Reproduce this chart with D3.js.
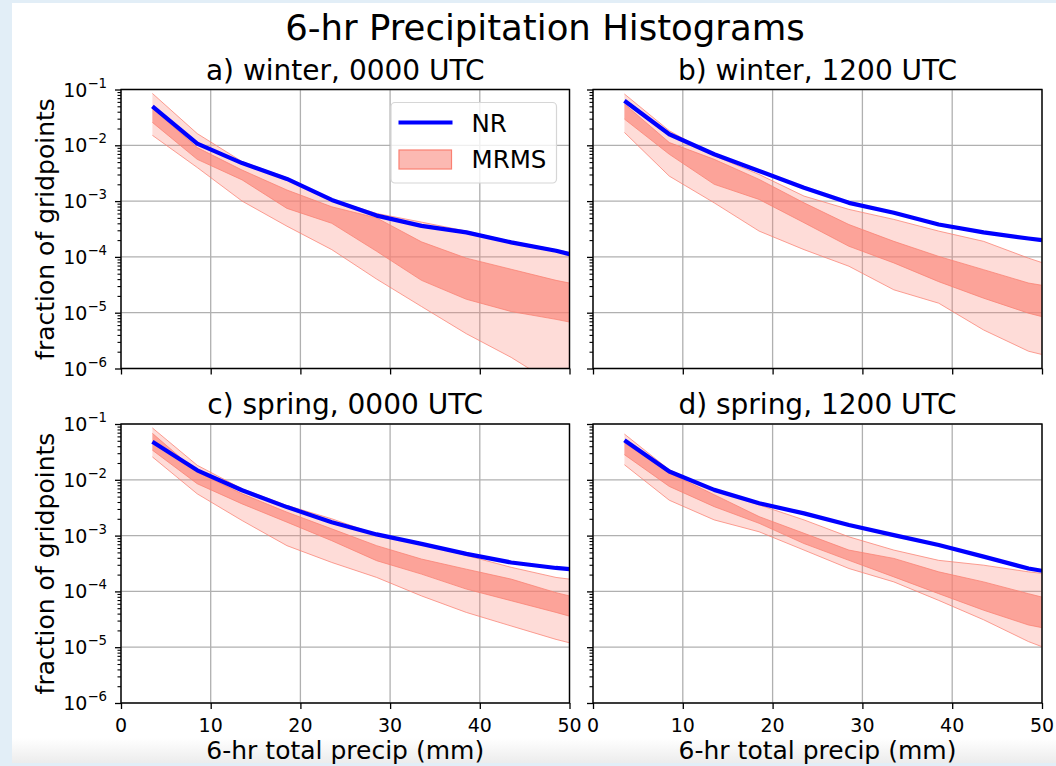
<!DOCTYPE html>
<html><head><meta charset="utf-8">
<script src="https://cdn.jsdelivr.net/npm/d3@7"></script>
<style>
body{margin:0;background:#e4eff7;}
svg{display:block;font-family:"DejaVu Sans",sans-serif;}
</style>
</head><body>
<svg id="chart" width="1056" height="766"></svg>
<script>
// ---------- data ----------
const precip = [3.5, 8.5, 13.5, 18.5, 23.5, 28.5, 33.5, 38.5, 43.5, 48.5, 50];
const panelTitles = ["a) winter, 0000 UTC", "b) winter, 1200 UTC", "c) spring, 0000 UTC", "d) spring, 1200 UTC"];
const xTicks = [0, 10, 20, 30, 40, 50];
const yTickExps = [-6, -5, -4, -3, -2, -1];

// a) winter 0000 UTC
const nrA      = [5.0e-2, 1.07e-2, 4.8e-3, 2.5e-3, 1.05e-3, 5.5e-4, 3.6e-4, 2.75e-4, 1.82e-4, 1.29e-4, 1.12e-4];
const outerHiA = [8.5e-2, 1.62e-2, 5.1e-3, 2.63e-3, 1.07e-3, 6.0e-4, 4.2e-4, 2.9e-4, 1.9e-4, 1.35e-4, 1.2e-4];
const innerHiA = [4.6e-2, 9.1e-3, 3.6e-3, 1.58e-3, 7.9e-4, 5.0e-4, 1.86e-4, 9.5e-5, 6.0e-5, 3.8e-5, 3.4e-5];
const innerLoA = [2.57e-2, 5.6e-3, 2.4e-3, 7.4e-4, 4.0e-4, 1.26e-4, 3.8e-5, 1.74e-5, 1.05e-5, 7.6e-6, 6.8e-6];
const outerLoA = [1.51e-2, 4.0e-3, 1.0e-3, 3.55e-4, 1.35e-4, 4.0e-5, 1.29e-5, 4.2e-6, 1.58e-6, 5.0e-7, 3.2e-7];

// b) winter 1200 UTC
const nrB      = [6.3e-2, 1.58e-2, 6.9e-3, 3.47e-3, 1.74e-3, 9.3e-4, 6.2e-4, 3.8e-4, 2.75e-4, 2.14e-4, 2.0e-4];
const outerHiB = [8.3e-2, 1.82e-2, 6.5e-3, 3.0e-3, 1.23e-3, 7.1e-4, 4.7e-4, 2.9e-4, 1.9e-4, 9.5e-5, 7.9e-5];
const innerHiB = [5.5e-2, 1.12e-2, 5.6e-3, 2.45e-3, 9.3e-4, 3.8e-4, 1.9e-4, 1.02e-4, 5.9e-5, 3.4e-5, 3.1e-5];
const innerLoB = [2.95e-2, 6.9e-3, 2.0e-3, 1.07e-3, 4.1e-4, 1.55e-4, 7.8e-5, 3.6e-5, 1.82e-5, 9.8e-6, 8.5e-6];
const outerLoB = [1.7e-2, 2.8e-3, 9.3e-4, 2.9e-4, 1.35e-4, 6.8e-5, 2.57e-5, 1.48e-5, 4.9e-6, 2.04e-6, 1.78e-6];

// c) spring 0000 UTC
const nrC      = [4.8e-2, 1.48e-2, 6.5e-3, 3.24e-3, 1.74e-3, 1.05e-3, 7.1e-4, 4.7e-4, 3.3e-4, 2.63e-4, 2.5e-4];
const outerHiC = [8.5e-2, 1.82e-2, 6.9e-3, 3.47e-3, 2.0e-3, 1.05e-3, 7.1e-4, 4.4e-4, 2.7e-4, 1.78e-4, 1.66e-4];
const innerHiC = [6.8e-2, 1.38e-2, 5.6e-3, 2.63e-3, 1.32e-3, 6.6e-4, 3.8e-4, 2.5e-4, 1.66e-4, 9.5e-5, 8.3e-5];
const innerLoC = [3.4e-2, 8.5e-3, 3.7e-3, 1.74e-3, 8.1e-4, 3.55e-4, 2.04e-4, 1.1e-4, 6.8e-5, 4.2e-5, 3.6e-5];
const outerLoC = [2.57e-2, 5.6e-3, 1.86e-3, 6.6e-4, 3.3e-4, 1.78e-4, 8.3e-5, 4.2e-5, 2.4e-5, 1.38e-5, 1.2e-5];

// d) spring 1200 UTC
const nrD      = [5.1e-2, 1.41e-2, 6.6e-3, 3.8e-3, 2.5e-3, 1.55e-3, 1.02e-3, 6.8e-4, 4.2e-4, 2.57e-4, 2.34e-4];
const outerHiD = [6.6e-2, 1.51e-2, 6.6e-3, 3.55e-3, 1.91e-3, 9.5e-4, 5.5e-4, 3.6e-4, 2.95e-4, 2.24e-4, 2.1e-4];
const innerHiD = [4.6e-2, 1.32e-2, 5.4e-3, 2.19e-3, 1.1e-3, 5.5e-4, 3.9e-4, 2.24e-4, 1.48e-4, 9.1e-5, 7.9e-5];
const innerLoD = [2.82e-2, 7.6e-3, 3.3e-3, 1.66e-3, 7.2e-4, 3.6e-4, 1.82e-4, 9.1e-5, 4.6e-5, 2.5e-5, 2.24e-5];
const outerLoD = [1.86e-2, 4.3e-3, 1.91e-3, 1.17e-3, 5.5e-4, 2.57e-4, 1.48e-4, 6.9e-5, 3.1e-5, 1.26e-5, 1.02e-5];

// ---------- layout ----------
const W = 1056, H = 766;
const svg = d3.select("#chart");
const defs = svg.append("defs");

const grad = defs.append("linearGradient").attr("id","bottomFade").attr("x1",0).attr("y1",0).attr("x2",0).attr("y2",1);
grad.append("stop").attr("offset","0%").attr("stop-color","#ffffff");
grad.append("stop").attr("offset","100%").attr("stop-color","#ececec");

svg.append("rect").attr("x",0).attr("y",0).attr("width",W).attr("height",H).attr("fill","#e2eef7");
svg.append("rect").attr("x",12).attr("y",3).attr("width",W-12).attr("height",760).attr("fill","#ffffff");
svg.append("rect").attr("x",12).attr("y",738).attr("width",W-12).attr("height",25).attr("fill","url(#bottomFade)");

const cols = [[121, 569.5], [593, 1042]];
const rows = [[89.5, 368.5], [424, 703]];

const panels = [
  {title: panelTitles[0], nr: nrA, oHi: outerHiA, iHi: innerHiA, iLo: innerLoA, oLo: outerLoA, c: 0, r: 0},
  {title: panelTitles[1], nr: nrB, oHi: outerHiB, iHi: innerHiB, iLo: innerLoB, oLo: outerLoB, c: 1, r: 0},
  {title: panelTitles[2], nr: nrC, oHi: outerHiC, iHi: innerHiC, iLo: innerLoC, oLo: outerLoC, c: 0, r: 1},
  {title: panelTitles[3], nr: nrD, oHi: outerHiD, iHi: innerHiD, iLo: innerLoD, oLo: outerLoD, c: 1, r: 1}
];

const salmon = "#fa8072";
const gridColor = "#b0b0b0";

panels.forEach((p, i) => {
  const [x0, x1] = cols[p.c];
  const [y0, y1] = rows[p.r];
  const x = d3.scaleLinear().domain([0, 50]).range([x0, x1]);
  const y = d3.scaleLog().domain([1e-6, 1e-1]).range([y1, y0]);

  const g = svg.append("g");
  const clipId = "clip" + i;
  defs.append("clipPath").attr("id", clipId).append("rect")
    .attr("x", x0).attr("y", y0).attr("width", x1 - x0).attr("height", y1 - y0);

  // grid
  const grid = g.append("g");
  xTicks.forEach(t => {
    grid.append("line").attr("x1", x(t)).attr("x2", x(t)).attr("y1", y0).attr("y2", y1)
      .attr("stroke", gridColor).attr("stroke-width", 1.3);
  });
  yTickExps.forEach(e => {
    grid.append("line").attr("x1", x0).attr("x2", x1).attr("y1", y(Math.pow(10, e))).attr("y2", y(Math.pow(10, e)))
      .attr("stroke", gridColor).attr("stroke-width", 1.3);
  });

  const plot = g.append("g").attr("clip-path", `url(#${clipId})`);
  const idx = d3.range(precip.length);
  const areaOuter = d3.area().x(k => x(precip[k])).y0(k => y(p.oLo[k])).y1(k => y(p.oHi[k]));
  const areaInner = d3.area().x(k => x(precip[k])).y0(k => y(p.iLo[k])).y1(k => y(p.iHi[k]));
  const lineOf = arr => d3.line().x(k => x(precip[k])).y(k => y(arr[k]));

  plot.append("path").attr("d", areaOuter(idx)).attr("fill", salmon).attr("fill-opacity", 0.28).attr("stroke", "none");
  [p.oLo, p.oHi].forEach(arr => plot.append("path").attr("d", lineOf(arr)(idx))
     .attr("fill", "none").attr("stroke", salmon).attr("stroke-opacity", 0.75).attr("stroke-width", 1));
  plot.append("path").attr("d", areaInner(idx)).attr("fill", salmon).attr("fill-opacity", 0.62).attr("stroke", "none");
  [p.iLo, p.iHi].forEach(arr => plot.append("path").attr("d", lineOf(arr)(idx))
     .attr("fill", "none").attr("stroke", salmon).attr("stroke-opacity", 0.75).attr("stroke-width", 1));

  plot.append("path").attr("d", lineOf(p.nr)(idx)).attr("fill", "none")
    .attr("stroke", "#0000ff").attr("stroke-width", 4.2).attr("stroke-linejoin", "round");

  // axes (spines + ticks)
  const yMinor = [];
  for (let e = -6; e < -1; e++) for (let m = 2; m <= 9; m++) yMinor.push(m * Math.pow(10, e));
  const axY = g.append("g").attr("transform", `translate(${x0},0)`)
    .call(d3.axisLeft(y).tickValues(yMinor).tickSize(3.5).tickFormat(""));
  const axYMajor = g.append("g").attr("transform", `translate(${x0},0)`)
    .call(d3.axisLeft(y).tickValues(yTickExps.map(e => Math.pow(10, e))).tickSize(6).tickFormat(""));
  const axX = g.append("g").attr("transform", `translate(0,${y1})`)
    .call(d3.axisBottom(x).tickValues(xTicks).tickSize(6).tickFormat(""));
  [axY, axYMajor, axX].forEach(a => {
    a.select(".domain").remove();
    a.selectAll("line").attr("stroke", "#000").attr("stroke-width", 1.1);
  });
  axYMajor.selectAll("line").attr("stroke-width", 1.3);
  axX.selectAll("line").attr("stroke-width", 1.3);

  g.append("rect").attr("x", x0).attr("y", y0).attr("width", x1 - x0).attr("height", y1 - y0)
    .attr("fill", "none").attr("stroke", "#000").attr("stroke-width", 1.4);

  // y tick labels (left column only)
  if (p.c === 0) {
    yTickExps.forEach(e => {
      const t = g.append("text").attr("x", 107).attr("y", y(Math.pow(10, e)) + 7)
        .attr("text-anchor", "end").attr("font-size", 19).attr("fill", "#000");
      t.append("tspan").text("10");
      t.append("tspan").attr("dy", -9).attr("font-size", 13.3).text("\u2212" + Math.abs(e));
    });
    g.append("text").attr("transform", `translate(54,${(y0 + y1) / 2}) rotate(-90)`)
      .attr("text-anchor", "middle").attr("font-size", 25).attr("fill", "#000").text("fraction of gridpoints");
  }
  // x tick labels (bottom row only)
  if (p.r === 1) {
    xTicks.forEach(t => {
      g.append("text").attr("x", x(t)).attr("y", 731.5).attr("text-anchor", "middle")
        .attr("font-size", 19).attr("fill", "#000").text(t);
    });
    g.append("text").attr("x", (x0 + x1) / 2).attr("y", 759).attr("text-anchor", "middle")
      .attr("font-size", 25).attr("fill", "#000").text("6-hr total precip (mm)");
  }
  // subplot title
  g.append("text").attr("x", (x0 + x1) / 2).attr("y", y0 - 10).attr("text-anchor", "middle")
    .attr("font-size", 28).attr("fill", "#000").text(p.title);

  // legend in panel a
  if (i === 0) {
    const lg = g.append("g");
    lg.append("rect").attr("x", 391).attr("y", 102.5).attr("width", 165.5).attr("height", 80.5)
      .attr("rx", 4).attr("fill", "#ffffff").attr("fill-opacity", 0.8).attr("stroke", "#d6d6d6").attr("stroke-width", 1.2);
    lg.append("line").attr("x1", 398.5).attr("x2", 452.5).attr("y1", 122.5).attr("y2", 122.5)
      .attr("stroke", "#0000ff").attr("stroke-width", 4.2);
    lg.append("rect").attr("x", 399).attr("y", 150).attr("width", 52.5).attr("height", 19)
      .attr("fill", salmon).attr("fill-opacity", 0.55).attr("stroke", salmon).attr("stroke-width", 1.2);
    lg.append("text").attr("x", 471.5).attr("y", 131.5).attr("font-size", 24.5).attr("fill", "#000").text("NR");
    lg.append("text").attr("x", 471.5).attr("y", 168).attr("font-size", 24.5).attr("fill", "#000").text("MRMS");
  }
});

// overall title
svg.append("text").attr("x", 545).attr("y", 39.5).attr("text-anchor", "middle")
  .attr("font-size", 35.5).attr("fill", "#000").text("6-hr Precipitation Histograms");
</script>
</body></html>
